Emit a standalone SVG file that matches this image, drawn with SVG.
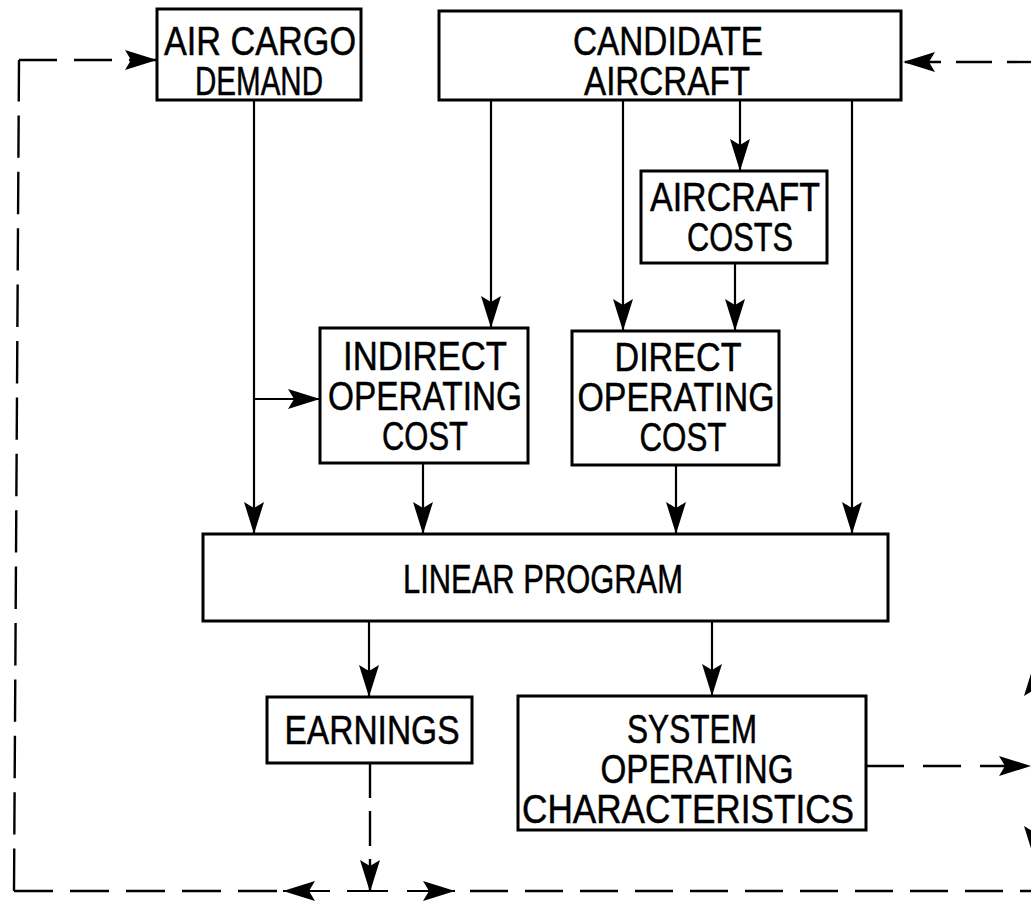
<svg xmlns="http://www.w3.org/2000/svg" width="1031" height="905" viewBox="0 0 1031 905">
<defs>
<marker id="ah" markerUnits="userSpaceOnUse" viewBox="-33 -11 34 22" refX="0" refY="0" markerWidth="34" markerHeight="22" orient="auto">
<path d="M0,0 L-32,-10 L-26,0 L-32,10 Z" fill="#000"/>
</marker>
<style>
.box{fill:#fff;stroke:#000;stroke-width:3}
.t{font-family:"Liberation Sans Narrow","Liberation Sans",Arial,sans-serif;font-size:40px;fill:#000;stroke:#000;stroke-width:0.5;text-anchor:middle}
.c{fill:none;stroke:#000;stroke-width:2.2}
.d{fill:none;stroke:#000;stroke-width:2.4;stroke-dasharray:38 17}
</style>
</defs>
<rect width="1031" height="905" fill="#fff"/>
<g id="connectors">
<path class="c" d="M254,100 V534" marker-end="url(#ah)"/>
<path class="c" d="M254,399 H320" marker-end="url(#ah)"/>
<path class="c" d="M491,100 V328" marker-end="url(#ah)"/>
<path class="c" d="M623,100 V331" marker-end="url(#ah)"/>
<path class="c" d="M740,100 V171" marker-end="url(#ah)"/>
<path class="c" d="M852,100 V534" marker-end="url(#ah)"/>
<path class="c" d="M735,263 V331" marker-end="url(#ah)"/>
<path class="c" d="M423,463 V534" marker-end="url(#ah)"/>
<path class="c" d="M676,465 V534" marker-end="url(#ah)"/>
<path class="c" d="M369,621 V697" marker-end="url(#ah)"/>
<path class="c" d="M712,621 V696" marker-end="url(#ah)"/>
<path class="d" style="stroke-dasharray:35 13" d="M370,763 V892" marker-end="url(#ah)"/>
<path class="c" d="M330,891 H283" marker-end="url(#ah)"/>
<path class="c" d="M347,891 H388"/>
<path class="c" d="M407,891 H455" marker-end="url(#ah)"/>
<path class="d" style="stroke-dasharray:39 17" d="M277,891 H14"/>
<path class="d" style="stroke-dasharray:42.4 14" d="M14,891 L19,60"/>
<path class="d" d="M19,60 H157" marker-end="url(#ah)"/>
<path class="d" d="M470,891 H1031"/>
<path class="d" style="stroke-dasharray:36 15;stroke-dashoffset:12" d="M1031,62 H903" marker-end="url(#ah)"/>
<path class="d" style="stroke-dasharray:38 19" d="M866,766 H1031" marker-end="url(#ah)"/>
<path class="c" d="M1034,766 V664" marker-end="url(#ah)"/>
<path class="c" d="M1034,766 V858" marker-end="url(#ah)"/>
</g>
<g id="air-cargo-demand">
<rect class="box" x="157" y="9" width="204" height="91"/>
<text class="t" x="260" y="55" textLength="192" lengthAdjust="spacingAndGlyphs">AIR CARGO</text>
<text class="t" x="259" y="95" textLength="128" lengthAdjust="spacingAndGlyphs">DEMAND</text>
</g>
<g id="candidate-aircraft">
<rect class="box" x="439" y="11" width="462" height="89"/>
<text class="t" x="668" y="55" textLength="190" lengthAdjust="spacingAndGlyphs">CANDIDATE</text>
<text class="t" x="667" y="95" textLength="166" lengthAdjust="spacingAndGlyphs">AIRCRAFT</text>
</g>
<g id="aircraft-costs">
<rect class="box" x="641" y="171" width="186" height="92"/>
<text class="t" x="735" y="211" textLength="170" lengthAdjust="spacingAndGlyphs">AIRCRAFT</text>
<text class="t" x="740" y="251" textLength="106" lengthAdjust="spacingAndGlyphs">COSTS</text>
</g>
<g id="indirect-operating-cost">
<rect class="box" x="320" y="328" width="208" height="135"/>
<text class="t" x="425" y="370" textLength="164" lengthAdjust="spacingAndGlyphs">INDIRECT</text>
<text class="t" x="425" y="410" textLength="194" lengthAdjust="spacingAndGlyphs">OPERATING</text>
<text class="t" x="425" y="450" textLength="86" lengthAdjust="spacingAndGlyphs">COST</text>
</g>
<g id="direct-operating-cost">
<rect class="box" x="572" y="331" width="207" height="134"/>
<text class="t" x="678" y="371" textLength="127" lengthAdjust="spacingAndGlyphs">DIRECT</text>
<text class="t" x="676" y="411" textLength="197" lengthAdjust="spacingAndGlyphs">OPERATING</text>
<text class="t" x="683" y="451" textLength="87" lengthAdjust="spacingAndGlyphs">COST</text>
</g>
<g id="linear-program">
<rect class="box" x="203" y="534" width="685" height="87"/>
<text class="t" x="543" y="593" textLength="280" lengthAdjust="spacingAndGlyphs">LINEAR PROGRAM</text>
</g>
<g id="earnings">
<rect class="box" x="267" y="697" width="205" height="66"/>
<text class="t" x="372" y="744" textLength="175" lengthAdjust="spacingAndGlyphs">EARNINGS</text>
</g>
<g id="system-operating-characteristics">
<rect class="box" x="518" y="696" width="348" height="134"/>
<text class="t" x="692" y="743" textLength="130" lengthAdjust="spacingAndGlyphs">SYSTEM</text>
<text class="t" x="697" y="783" textLength="193" lengthAdjust="spacingAndGlyphs">OPERATING</text>
<text class="t" x="688" y="823" textLength="332" lengthAdjust="spacingAndGlyphs">CHARACTERISTICS</text>
</g>
</svg>
